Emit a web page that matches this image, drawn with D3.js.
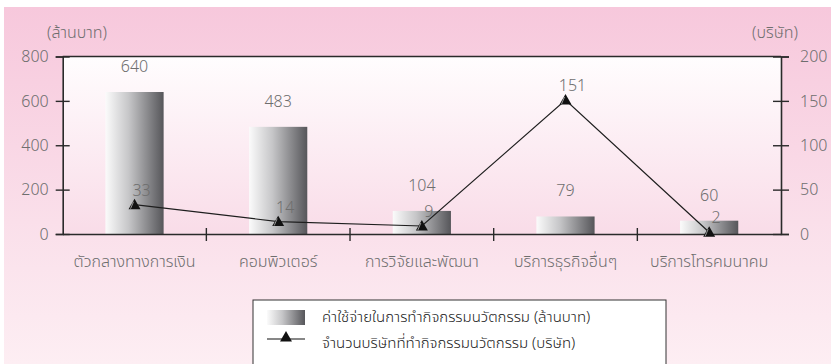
<!DOCTYPE html>
<html>
<head>
<meta charset="utf-8">
<script src="https://cdn.jsdelivr.net/npm/d3@7"></script>
<style>
  html, body { margin: 0; padding: 0; background: #ffffff; }
  svg { display: block; }
  text { font-family: "Noto Sans Thai", "Noto Sans Thai Looped", Loma, Garuda, "Noto Sans", "DejaVu Sans", sans-serif; font-weight: 300; }
</style>
</head>
<body>
<svg id="chart" width="831" height="364"></svg>
<script>
// Innovation activity by business sector
const categories = ["ตัวกลางทางการเงิน", "คอมพิวเตอร์", "การวิจัยและพัฒนา", "บริการธุรกิจอื่นๆ", "บริการโทรคมนาคม"];
const spending = [640, 483, 104, 79, 60];       // ล้านบาท
const firms = [33, 14, 9, 151, 2];              // บริษัท
const leftTicks = [0, 200, 400, 600, 800];
const rightTicks = [0, 50, 100, 150, 200];
const leftTitle = "(ล้านบาท)";
const rightTitle = "(บริษัท)";
const legendLabels = [
  "ค่าใช้จ่ายในการทำกิจกรรมนวัตกรรม (ล้านบาท)",
  "จำนวนบริษัทที่ทำกิจกรรมนวัตกรรม (บริษัท)"
];

const W = 831, H = 364;
const plot = { left: 62.7, right: 781, top: 56.5, bottom: 234 };
const svg = d3.select("#chart");
const defs = svg.append("defs");

// backgrounds
const bgGrad = defs.append("linearGradient").attr("id", "bgGrad").attr("x1", 0).attr("y1", 0).attr("x2", 0).attr("y2", 1);
bgGrad.append("stop").attr("offset", "0%").attr("stop-color", "#f7c8dc");
bgGrad.append("stop").attr("offset", "60%").attr("stop-color", "#fadfea");
bgGrad.append("stop").attr("offset", "100%").attr("stop-color", "#fdeef3");

const plotGrad = defs.append("linearGradient").attr("id", "plotGrad").attr("x1", 0).attr("y1", 0).attr("x2", 0).attr("y2", 1);
plotGrad.append("stop").attr("offset", "0%").attr("stop-color", "#fffdfe");
plotGrad.append("stop").attr("offset", "100%").attr("stop-color", "#f9dce8");

const barGrad = defs.append("linearGradient").attr("id", "barGrad").attr("x1", 0).attr("y1", 0).attr("x2", 1).attr("y2", 0);
barGrad.append("stop").attr("offset", "0%").attr("stop-color", "#fbfbfb");
barGrad.append("stop").attr("offset", "40%").attr("stop-color", "#c6c6c8");
barGrad.append("stop").attr("offset", "100%").attr("stop-color", "#56565a");

svg.append("rect").attr("x", 4).attr("y", 7).attr("width", W - 4).attr("height", H - 7).attr("fill", "url(#bgGrad)");
svg.append("rect")
  .attr("x", plot.left).attr("y", plot.top)
  .attr("width", plot.right - plot.left).attr("height", plot.bottom - plot.top)
  .attr("fill", "url(#plotGrad)");

// scales
const x = d3.scaleBand().domain(categories).range([plot.left, plot.right]).padding(0);
const yL = d3.scaleLinear().domain([0, 800]).range([plot.bottom, plot.top]);
const yR = d3.scaleLinear().domain([0, 200]).range([plot.bottom, plot.top]);
const barW = x.bandwidth() * 0.405;
const cx = d => x(d) + x.bandwidth() / 2;

const axisColor = "#2a2a2a";
const labelColor = "#6e6e6e";
const fs = 16;

// bars
svg.append("g").selectAll("rect").data(categories).join("rect")
  .attr("x", d => cx(d) - barW / 2)
  .attr("y", (d, i) => yL(spending[i]))
  .attr("width", barW)
  .attr("height", (d, i) => yL(0) - yL(spending[i]))
  .attr("fill", "url(#barGrad)");

// bar values
svg.append("g").selectAll("text").data(categories).join("text")
  .attr("x", d => cx(d))
  .attr("y", (d, i) => yL(spending[i]) - 20)
  .attr("text-anchor", "middle")
  .attr("font-size", fs).attr("fill", labelColor)
  .text((d, i) => spending[i]);

// left axis
const gL = svg.append("g").attr("transform", `translate(${plot.left},0)`)
  .call(d3.axisLeft(yL).tickValues(leftTicks).tickSize(7).tickPadding(7));
gL.selectAll(".tick line").attr("x1", -7).attr("x2", 7);
// right axis
const gR = svg.append("g").attr("transform", `translate(${plot.right},0)`)
  .call(d3.axisRight(yR).tickValues(rightTicks).tickSize(8).tickPadding(11));
gR.selectAll(".tick line").attr("x1", -8).attr("x2", 8);
// bottom axis with category labels
const gB = svg.append("g").attr("transform", `translate(0,${plot.bottom})`)
  .call(d3.axisBottom(x).tickSize(0).tickPadding(27));

[gL, gR, gB].forEach(g => {
  g.select(".domain").attr("stroke", axisColor).attr("stroke-width", 1.6);
  g.selectAll(".tick line").attr("stroke", axisColor).attr("stroke-width", 1.4);
  g.selectAll(".tick text").attr("font-size", fs).attr("fill", labelColor).attr("font-family", null);
});
gB.selectAll(".tick text").attr("dy", "0.35em");

// band separators on the category axis
svg.append("g").selectAll("line").data(categories.slice(1)).join("line")
  .attr("x1", d => x(d)).attr("x2", d => x(d))
  .attr("y1", plot.bottom - 6).attr("y2", plot.bottom + 7)
  .attr("stroke", axisColor).attr("stroke-width", 1.4);

// frame top
svg.append("line")
  .attr("x1", plot.left).attr("x2", plot.right)
  .attr("y1", plot.top).attr("y2", plot.top)
  .attr("stroke", axisColor).attr("stroke-width", 1.4);

// axis titles
svg.append("text").attr("x", 47).attr("y", 38).attr("font-size", fs).attr("fill", labelColor).text(leftTitle);
svg.append("text").attr("x", 798).attr("y", 38).attr("text-anchor", "end").attr("font-size", fs).attr("fill", labelColor).text(rightTitle);

// firm-count line
const line = d3.line().x((d, i) => cx(categories[i])).y(d => yR(d));
svg.append("path").datum(firms).attr("d", line)
  .attr("fill", "none").attr("stroke", "#1e1e1e").attr("stroke-width", 1.2);

const tri = d3.symbol().type(d3.symbolTriangle).size(62);
const markers = svg.append("g").selectAll("g").data(firms).join("g")
  .attr("transform", (d, i) => `translate(${cx(categories[i])},${yR(d) + 1})`);
markers.append("path").attr("d", tri).attr("fill", "#111");
markers.append("path").attr("d", "M-1,-4 L-4,3").attr("stroke", "#ffffff").attr("stroke-width", 0.8).attr("opacity", 0.7);

svg.append("g").selectAll("text").data(firms).join("text")
  .attr("x", (d, i) => cx(categories[i]) + 7)
  .attr("y", d => yR(d) - 9)
  .attr("text-anchor", "middle")
  .attr("font-size", fs).attr("fill", labelColor)
  .text(d => d);

// legend
const lg = svg.append("g");
lg.append("rect").attr("x", 253).attr("y", 300).attr("width", 413).attr("height", 80)
  .attr("fill", "#ffffff").attr("stroke", "#333").attr("stroke-width", 1);
lg.append("rect").attr("x", 267).attr("y", 310).attr("width", 38).attr("height", 15).attr("fill", "url(#barGrad)");
lg.append("line").attr("x1", 267).attr("x2", 305).attr("y1", 339).attr("y2", 339).attr("stroke", "#111").attr("stroke-width", 1.2);
lg.append("g").attr("transform", "translate(286,338)").append("path").attr("d", tri).attr("fill", "#111");
lg.selectAll("text.leg").data(legendLabels).join("text").attr("class", "leg")
  .attr("x", 322).attr("y", (d, i) => 322 + i * 26)
  .attr("font-size", 15).attr("fill", "#1a1a1a")
  .text(d => d);
</script>
</body>
</html>
